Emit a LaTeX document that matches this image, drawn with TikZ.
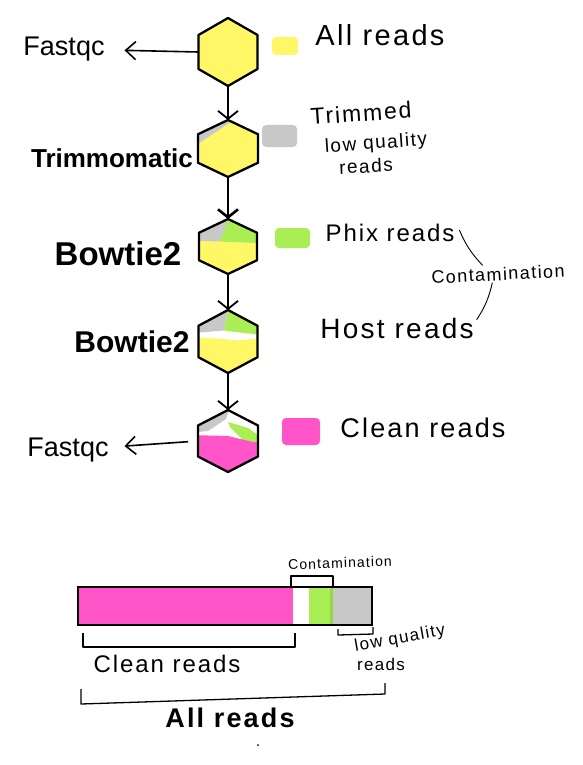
\documentclass[tikz,border=0pt]{standalone}
\usepackage{fontspec}
\setmainfont{Liberation Sans}
\newfontfamily\hand[LetterSpace=8]{Liberation Sans}
\usetikzlibrary{arrows.meta,calc}
\definecolor{cyel}{RGB}{255,247,102}
\definecolor{cgray}{RGB}{200,200,200}
\definecolor{cgreen}{RGB}{170,238,85}
\definecolor{cdkgreen}{RGB}{150,215,70}
\definecolor{cpink}{RGB}{255,85,200}
\newcommand\setsz[1]{\fontsize{#1}{#1}\selectfont}
\newcommand\hexclip[1]{\clip (#1.north) -- ($(#1.north east)!0.25!(#1.south east)$) -- ($(#1.north east)!0.75!(#1.south east)$) -- (#1.south) -- ($(#1.north west)!0.75!(#1.south west)$) -- ($(#1.north west)!0.25!(#1.south west)$) -- cycle;}
\newcommand\hexdraw[1]{\draw[hexline] (#1.north) -- ($(#1.north east)!0.25!(#1.south east)$) -- ($(#1.north east)!0.75!(#1.south east)$) -- (#1.south) -- ($(#1.north west)!0.75!(#1.south west)$) -- ($(#1.north west)!0.25!(#1.south west)$) -- cycle;}
\begin{document}
\begin{tikzpicture}[x=1pt,y=-1pt,
  hexbox/.style={rectangle, inner sep=0pt, outer sep=0pt},
  hexline/.style={line width=2.3pt, line join=round},
  down/.style={line width=1.8pt, -{Straight Barb[length=8pt,width=20pt]}},
  toleft/.style={line width=1.6pt, -{Straight Barb[length=10pt,width=18pt]}},
  proc/.style={inner sep=0pt, outer sep=0pt},
  handtxt/.style={inner sep=0pt, outer sep=0pt},
  swatch/.style={rounded corners=4pt, inner sep=0pt, outer sep=0pt},
  brk/.style={line width=1.3pt, line join=round},
  leader/.style={line width=0.9pt}
]
\useasboundingbox (0,0) rectangle (583,765);

% ---------- hexagons ----------
\node[hexbox, minimum width=59pt, minimum height=68pt] (h1) at (228,52) {};
\node[hexbox, minimum width=60pt, minimum height=57pt] (h2) at (228,148.5) {};
\node[hexbox, minimum width=58pt, minimum height=55pt] (h3) at (228,246.5) {};
\node[hexbox, minimum width=59pt, minimum height=63pt] (h4) at (228,341.5) {};
\node[hexbox, minimum width=60pt, minimum height=62pt] (h5) at (228,441) {};

\begin{scope}
  \hexclip{h1}
  \fill[cyel] (h1.north west) rectangle (h1.south east);
\end{scope}
\hexdraw{h1}

\begin{scope}
  \hexclip{h2}
  \begin{scope}[shift={(h2.center)}]
    \fill[cyel] (-40,-40) rectangle (40,40);
    \fill[cgray] (-40,2) -- (14,-34) -- (-40,-34) -- cycle;
  \end{scope}
\end{scope}
\hexdraw{h2}

\begin{scope}
  \hexclip{h3}
  \begin{scope}[shift={(h3.center)}]
    \fill[cyel] (-40,-40) rectangle (40,40);
    \fill[cgray] (-40,-40) -- (6,-40) -- (-8,-5) -- (-40,-6) -- cycle;
    \fill[cgreen] (6,-40) -- (40,-40) -- (40,-3) -- (-8,-5) -- cycle;
  \end{scope}
\end{scope}
\hexdraw{h3}

\begin{scope}
  \hexclip{h4}
  \begin{scope}[shift={(h4.center)}]
    \fill[cgray] (-40,-40) -- (2,-40) -- (-4,-11) -- (-40,-8) -- cycle;
    \fill[cgreen] (2,-40) -- (40,-40) -- (40,-6) -- (12,-9) -- (-4,-11) -- cycle;
    \fill[cyel] (-40,-4) -- (-10,-3) -- (10,-1) -- (40,-4) -- (40,40) -- (-40,40) -- cycle;
  \end{scope}
\end{scope}
\hexdraw{h4}

\begin{scope}
  \hexclip{h5}
  \begin{scope}[shift={(h5.center)}]
    \fill[cgray] (-40,-40) -- (4,-40) -- (-2,-22) -- (-20,-10) -- (-40,-8) -- cycle;
    \fill[cgreen] (0,-19) -- (20,-13) -- (30,-6) -- (30,3) -- (18,2) -- (2,-14) -- cycle;
    \fill[cpink] (-40,-6) -- (0,-5) -- (25,1) -- (40,2) -- (40,40) -- (-40,40) -- cycle;
  \end{scope}
\end{scope}
\hexdraw{h5}

% ---------- vertical flow ----------
\draw[down] (h1) -- (h2);
\draw[down, line width=2.6pt] (h2) -- (h3);
\draw[down] (h3) -- (h4);
\draw[down] (h4) -- (h5);

% ---------- tool labels ----------
\node[proc, font=\setsz{27}] (fq1) at (64,49) {Fastqc};
\node[proc, font=\bfseries\setsz{26}] (trim) at (112,158) {Trimmomatic};
\node[proc, font=\bfseries\setsz{33}] (bw1) at (118,254) {Bowtie2};
\node[proc, font=\bfseries\setsz{30}] (bw2) at (132,342) {Bowtie2};
\node[proc, font=\setsz{27}] (fq2) at (68,450) {Fastqc};

\draw[toleft, shorten >=20pt] (h1.west) -- (fq1);
\draw[toleft, shorten <=10pt, shorten >=16pt] (h5.west) -- (fq2);

% ---------- legend ----------
\node[swatch, fill=cyel, minimum width=26pt, minimum height=18pt] (sw1) at (285,46) {};
\node[swatch, fill=cgray, minimum width=35pt, minimum height=22pt] (sw2) at (279.5,136) {};
\node[swatch, fill=cgreen, minimum width=35pt, minimum height=20pt] (sw3) at (292.5,238) {};
\node[swatch, fill=cpink, minimum width=38pt, minimum height=27pt] (sw4) at (301,431.5) {};

\node[handtxt, font=\hand\setsz{23}, rotate=4] (trimd) at (361,113) {Trimmed};
\node[handtxt, font=\hand\setsz{19}, rotate=4] (lowq) at (376,144) {low quality};
\node[handtxt, font=\hand\setsz{19}, rotate=3] (lqreads) at (366,166) {reads};
\node[handtxt, font=\hand\setsz{29}] (allr) at (380,35) {All reads};
\node[handtxt, font=\hand\setsz{24}] (phix) at (390,233) {Phix reads};
\node[handtxt, font=\hand\setsz{18}, rotate=3] (contam) at (498,274) {Contamination};
\node[handtxt, font=\hand\setsz{28}] (host) at (397,328) {Host reads};
\node[handtxt, font=\hand\setsz{27}] (clean) at (423,428) {Clean reads};

\draw[leader] ([xshift=5pt,yshift=3pt]phix.east) to[bend right=10] ([xshift=-15pt,yshift=2pt]contam.north);
\draw[leader] ([xshift=-6pt,yshift=-2pt]contam.south) to[bend left=10] ([xshift=3pt,yshift=-2pt]host.north east);

% ---------- summary bar ----------
\fill[cpink] (78,587) rectangle (293,625);
\fill[cgreen] (309,587) rectangle (333,625);
\fill[cdkgreen] (330,587) rectangle (333,625);
\fill[cgray] (333,587) rectangle (372,625);
\node[draw, line width=2.5pt, minimum width=294pt, minimum height=38pt, inner sep=0pt, outer sep=0pt] (bar) at (225,606) {};

\draw[brk] (291,587) -- (291,576) -- (333,576) -- (333,587);
\node[handtxt, font=\hand\setsz{14}, rotate=2] (contam2) at (340,563) {Contamination};

\draw[brk] (83,633) -- (83,647) -- (295,647) -- (295,633);
\node[handtxt, font=\hand\setsz{24}] (clean2) at (167,664) {Clean reads};

\draw[brk] (338,629) -- (338,635) -- (373,634) -- (373,627);
\node[handtxt, font=\hand\setsz{17}, rotate=10] (lowq2) at (400,639) {low quality};
\node[handtxt, font=\hand\setsz{17}] (reads2) at (381,664) {reads};

\draw[brk] (81,689) -- (81,704) -- (385,694) -- (385,683);
\node[handtxt, font=\hand\bfseries\setsz{27}] (allr2) at (230,718) {All reads};

\fill (258,745) circle (1pt);
\end{tikzpicture}
\end{document}
